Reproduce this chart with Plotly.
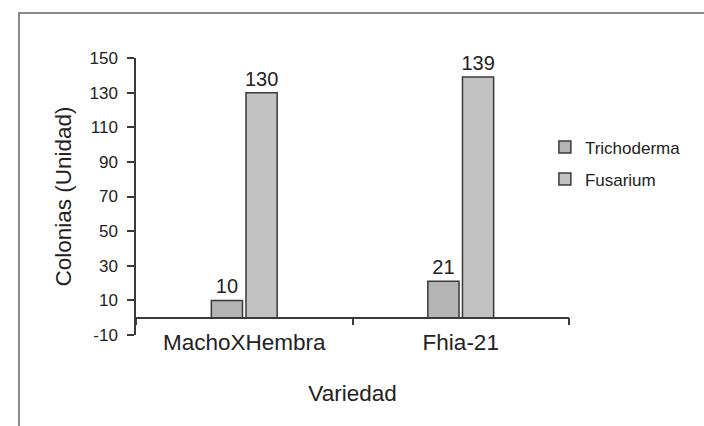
import plotly.graph_objects as go

# Colony counts per variety
variedades = ["MachoXHembra", "Fhia-21"]
trichoderma = [10, 21]
fusarium = [130, 139]

y_ticks = [-10, 10, 30, 50, 70, 90, 110, 130, 150]
y_tick_labels = ["-10", "10", "30", "50", "70", "90", "110", "130", "150"]
y_min, y_max = -10, 150

FONT = "Liberation Sans, Arial, sans-serif"
INK = "#222222"
EDGE = "#3a3a3a"

fig = go.Figure()
fig.add_trace(go.Bar(
    name="Trichoderma", x=variedades, y=trichoderma, legendgroup="t",
    marker=dict(color="#b4b4b4", line=dict(color=EDGE, width=1.5)),
    text=[str(v) for v in trichoderma], textposition="outside",
    constraintext="none",
    textfont=dict(size=20, color=INK, family=FONT), cliponaxis=False,
))
fig.add_trace(go.Bar(
    name="Fusarium", x=variedades, y=fusarium, legendgroup="f",
    marker=dict(color="#c2c2c2", line=dict(color=EDGE, width=1.5)),
    text=[str(v) for v in fusarium], textposition="outside",
    constraintext="none",
    textfont=dict(size=20, color=INK, family=FONT), cliponaxis=False,
))

# Horizontal axis sits on y = 0
x_pos = (0 - y_min) / (y_max - y_min)

fig.update_layout(
    width=704, height=426,
    margin=dict(l=136, r=135, t=58, b=91),
    paper_bgcolor="white", plot_bgcolor="white",
    font=dict(family=FONT, color=INK),
    barmode="group", bargap=0.68, bargroupgap=0.1,
    showlegend=True,
    legend=dict(
        x=0.972, xanchor="left", y=0.742, yanchor="top",
        font=dict(size=17, color=INK, family=FONT),
        bgcolor="rgba(0,0,0,0)", indentation=-12,
        traceorder="grouped", tracegroupgap=7,
    ),
    xaxis=dict(
        type="category", anchor="free", position=x_pos,
        showline=True, linecolor=EDGE, linewidth=1.5,
        ticks="outside", tickson="boundaries", ticklen=7,
        tickcolor=EDGE, tickwidth=1.5,
        tickfont=dict(size=22.5, color=INK, family=FONT),
        ticklabelstandoff=5,
        title=dict(text="Variedad", font=dict(size=22.5, color=INK, family=FONT),
                   standoff=30),
        showgrid=False, zeroline=False,
    ),
    yaxis=dict(
        range=[y_min, y_max], tickvals=y_ticks, ticktext=y_tick_labels,
        showline=True, linecolor=EDGE, linewidth=1.5,
        ticks="outside", ticklen=7, tickcolor=EDGE, tickwidth=1.5,
        tickfont=dict(size=17, color=INK, family=FONT),
        ticklabelstandoff=6,
        title=dict(text="Colonias (Unidad)",
                   font=dict(size=22.5, color=INK, family=FONT), standoff=12),
        showgrid=False, zeroline=False,
    ),
)

# Outer chart frame (open on the right and bottom)
fig.add_shape(
    type="rect", xref="paper", yref="paper",
    x0=(19 - 136) / 433, x1=(900 - 136) / 433,
    y0=-(600 - 335) / 277, y1=1 + (58 - 13) / 277,
    line=dict(color="#8a8a8a", width=2), fillcolor="rgba(0,0,0,0)",
    layer="below",
)

fig.write_html("out.html")
